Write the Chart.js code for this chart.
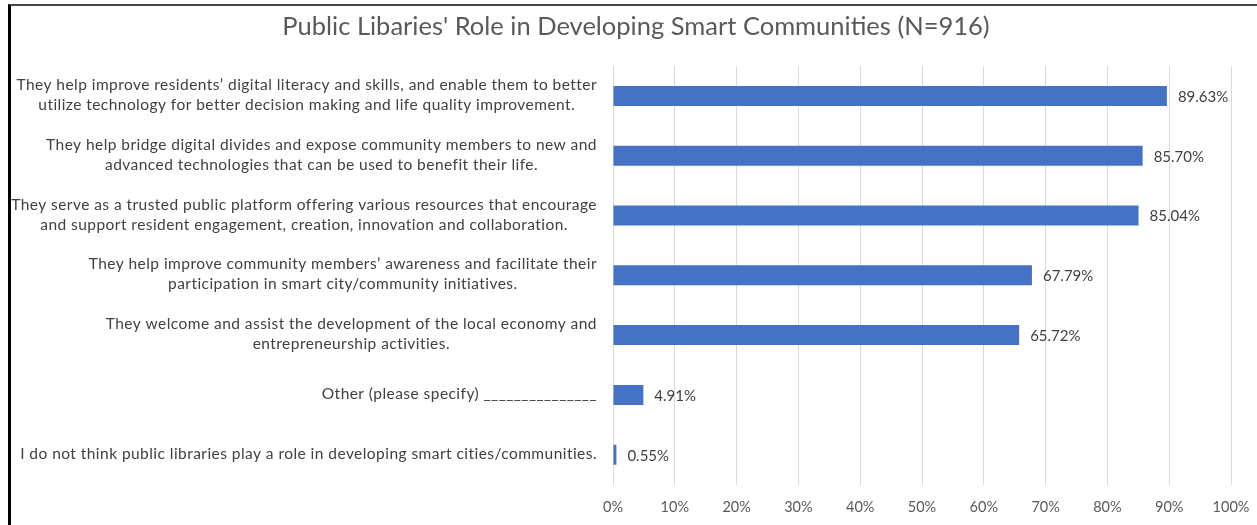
<!DOCTYPE html>
<html>
<head>
<meta charset="utf-8">
<script src="https://cdn.jsdelivr.net/npm/chart.js@4"></script>
<style>
  body { margin: 0; background: #fff; }
  #wrap { position: relative; width: 1257px; height: 525px; }
  #frame { position: absolute; left: 8px; top: 4px; width: 1300px; height: 600px;
           border-left: 3px solid #000; border-top: 2px solid #444; pointer-events: none; }
</style>
</head>
<body>
<div id="wrap">
  <canvas id="roles"></canvas>
  <div id="frame"></div>
</div>
<script>
const titleText = "Public Libaries' Role in Developing Smart Communities (N=916)";
const categories = [
   ["They help improve residents’ digital literacy and skills, and enable them to better",
    "utilize technology for better decision making and life quality improvement."],
   ["They help bridge digital divides and expose community members to new and",
    "advanced technologies that can be used to benefit their life."],
   ["They serve as a trusted public platform offering various resources that encourage",
    "and support resident engagement, creation, innovation and collaboration."],
   ["They help improve community members’ awareness and facilitate their",
    "participation in smart city/community initiatives."],
   ["They welcome and assist the development of the local economy and",
    "entrepreneurship activities."],
   ["Other (please specify) _______________"],
   ["I do not think public libraries play a role in developing smart cities/communities."]
];
const values = [89.63, 85.70, 85.04, 67.79, 65.72, 4.91, 0.55];
const tickLabels = ["0%", "10%", "20%", "30%", "40%", "50%", "60%", "70%", "80%", "90%", "100%"];

const blue = "#4472C4";
const textGrey = "#595959";
const fontName = "Lato";

// title centred on the whole picture, not on the plot
const pageTitle = {
   id: "pageTitle",
   afterDraw(chart) {
      const ctx = chart.ctx;
      ctx.save();
      ctx.font = "25.5px " + fontName;
      ctx.fillStyle = textGrey;
      ctx.textAlign = "center";
      ctx.textBaseline = "middle";
      ctx.fillText(titleText, 636, 27);
      ctx.restore();
   }
};

// category labels: each block right-aligned to the axis, lines centred inside it
const categoryLabels = {
   id: "categoryLabels",
   afterDraw(chart) {
      const ctx = chart.ctx;
      const yScale = chart.scales.y;
      const right = 597;
      const lineH = 20;
      ctx.save();
      ctx.font = "15.5px " + fontName;
      ctx.letterSpacing = "0.45px";
      ctx.fillStyle = "#404040";
      ctx.textAlign = "center";
      ctx.textBaseline = "middle";
      categories.forEach((lines, i) => {
         const y = yScale.getPixelForValue(i) - 1;
         const w = Math.max(...lines.map(l => ctx.measureText(l).width));
         const cx = right - w / 2;
         const top = y - (lines.length - 1) * lineH / 2;
         lines.forEach((l, j) => ctx.fillText(l, cx, top + j * lineH));
      });
      ctx.restore();
   }
};

// value labels at the end of every bar
const valueLabels = {
   id: "valueLabels",
   afterDatasetsDraw(chart) {
      const ctx = chart.ctx;
      const meta = chart.getDatasetMeta(0);
      ctx.save();
      ctx.font = "15px " + fontName;
      ctx.fillStyle = "#404040";
      ctx.textAlign = "left";
      ctx.textBaseline = "middle";
      meta.data.forEach((bar, i) => {
         ctx.fillText(values[i].toFixed(2) + "%", bar.x + 11, bar.y + 1);
      });
      ctx.restore();
   }
};

let rolesChart = new Chart("roles", {
   type: "bar",
   data: {
      labels: categories.map(c => c.join(" ")),
      datasets: [
         {
            data: values,
            backgroundColor: blue,
            barPercentage: 0.334,
            categoryPercentage: 1
         }
      ]
   },
   options: {
      indexAxis: "y",
      responsive: true,
      maintainAspectRatio: false,
      animation: false,
      layout: {
         padding: { left: 613, right: 26, top: 66, bottom: -5 }
      },
      plugins: {
         legend: { display: false },
         tooltip: { enabled: false },
         title: { display: false }
      },
      scales: {
         x: {
            min: 0,
            max: 100,
            afterFit: (scale) => {
               scale.paddingLeft = 0;
               scale.paddingRight = 0;
            },
            ticks: {
               stepSize: 10,
               color: textGrey,
               padding: 14,
               font: { family: fontName, size: 14.5 },
               callback: (v, i) => tickLabels[i]
            },
            grid: { color: "#d9d9d9", drawTicks: false },
            border: { display: false }
         },
         y: {
            display: false
         }
      }
   },
   plugins: [pageTitle, categoryLabels, valueLabels]
});
</script>
</body>
</html>
